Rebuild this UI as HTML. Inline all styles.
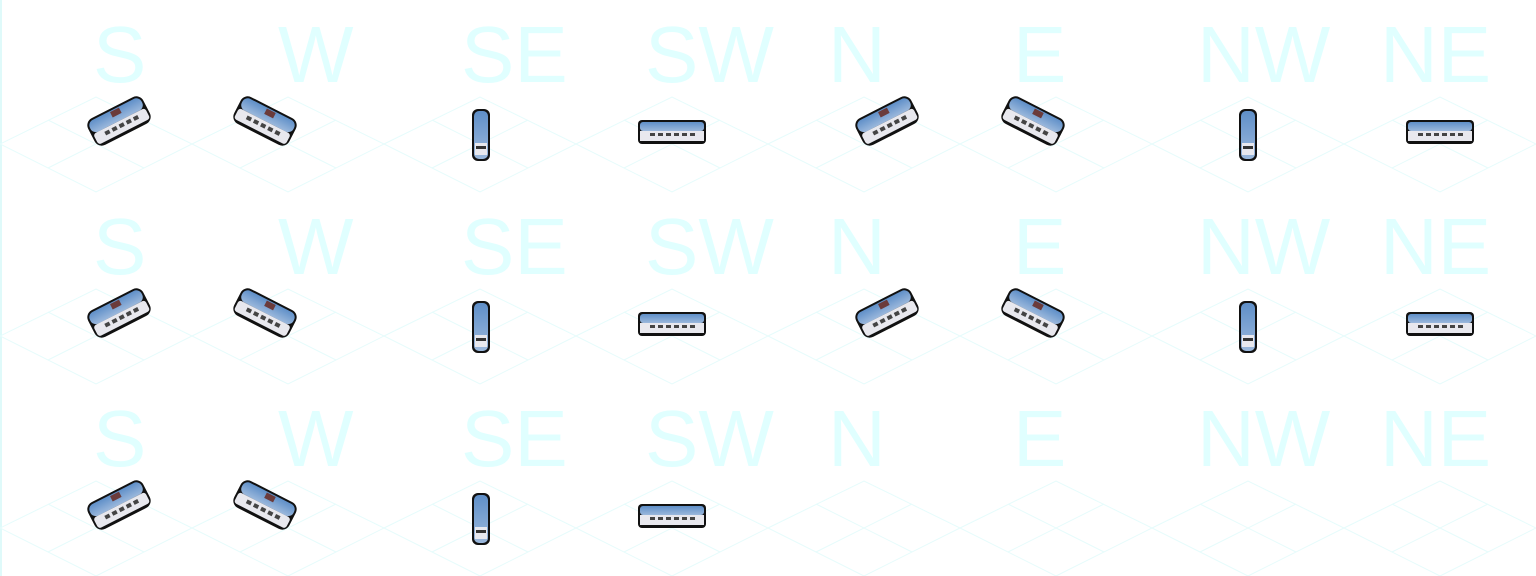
<!DOCTYPE html>
<html><head><meta charset="utf-8"><style>
html,body{margin:0;padding:0;background:#fff;width:1536px;height:576px;overflow:hidden}
svg{display:block}
.lbl{font-family:"Liberation Sans",sans-serif;font-size:80px;fill:#e0ffff}
</style></head><body>
<svg id="sheet" width="1536" height="576" xmlns="http://www.w3.org/2000/svg">
<defs>
<linearGradient id="roof" x1="0" y1="0" x2="0" y2="1"><stop offset="0" stop-color="#5f8fc8"/><stop offset="1" stop-color="#9bb8dc"/></linearGradient>
<g id="trainH">
<rect x="-34" y="-12" width="68" height="24" rx="4" fill="#111"/>
<rect x="-32" y="-10" width="64" height="9" rx="3" fill="url(#roof)"/>
<rect x="-32" y="-1" width="64" height="10" fill="#e8e8ee"/>
<g fill="#444"><rect x="-22" y="1" width="5" height="3"/><rect x="-14" y="1" width="5" height="3"/><rect x="-6" y="1" width="5" height="3"/><rect x="2" y="1" width="5" height="3"/><rect x="10" y="1" width="5" height="3"/><rect x="18" y="1" width="5" height="3"/></g>
</g>
<g id="trainD">
<rect x="-31" y="-15" width="62" height="30" rx="8" fill="#111"/>
<rect x="-29" y="-13" width="58" height="13" rx="6" fill="url(#roof)"/>
<rect x="-29" y="0" width="58" height="12" rx="3" fill="#e8e8ee"/>
<g fill="#444"><rect x="-18" y="3" width="5" height="4"/><rect x="-10" y="3" width="5" height="4"/><rect x="-2" y="3" width="5" height="4"/><rect x="6" y="3" width="5" height="4"/><rect x="14" y="3" width="5" height="4"/></g>
<rect x="-4" y="-12" width="10" height="6" fill="#6b3b3b"/>
</g>
<g id="trainV">
<rect x="-9" y="-26" width="18" height="52" rx="6" fill="#111"/>
<rect x="-7" y="-24" width="14" height="48" rx="5" fill="url(#roof)"/>
<rect x="-6" y="8" width="12" height="12" fill="#e8e8ee"/>
<rect x="-5" y="11" width="10" height="3" fill="#333"/>
</g>
</defs>
<line x1="1" y1="0" x2="1" y2="576" stroke="#dffafa" stroke-width="2"/>
<g id="grid"></g>
<g id="labels"></g>
<g id="trains"></g>
</svg>
<script>
const dirs=['S','W','SE','SW','N','E','NW','NE'];
const labelX=[93,278,461,645,828,1013,1197,1380];
const kinds=['diagS','diagW','vert','horiz','diagS','diagW','vert','horiz'];
const rows=[8,8,4];
const NS='http://www.w3.org/2000/svg';
const grid=document.getElementById('grid'),labels=document.getElementById('labels'),trains=document.getElementById('trains');
for(let r=0;r<3;r++){
 for(let c=0;c<8;c++){
  const ox=c*192,oy=r*192;
  const g=document.createElementNS(NS,'path');
  g.setAttribute('d',`M${ox},${oy+144}L${ox+96},${oy+97}L${ox+192},${oy+144}L${ox+96},${oy+192}Z M${ox+48},${oy+120}L${ox+144},${oy+168} M${ox+144},${oy+120}L${ox+48},${oy+168}`);
  g.setAttribute('fill','none');g.setAttribute('stroke','#e6fcfc');g.setAttribute('stroke-width','1');
  
  
  grid.appendChild(g);
  const t=document.createElementNS(NS,'text');
  t.setAttribute('x',labelX[c]);t.setAttribute('y',oy+82);t.setAttribute('class','lbl');
  t.textContent=dirs[c];
  
  
  labels.appendChild(t);
  if(c<rows[r]){
   const u=document.createElementNS(NS,'use');
   const k=kinds[c];let cx,cy=oy+121,tr='';
   if(k==='diagS'){cx=ox+(c===0?119:887-768);tr=`translate(${cx},${cy}) rotate(-27)`;u.setAttribute('href','#trainD');}
   else if(k==='diagW'){cx=ox+(c===1?265-192:1033-960);tr=`translate(${cx},${cy}) rotate(27)`;u.setAttribute('href','#trainD');}
   else if(k==='vert'){cx=ox+(c===2?481-384:1248-1152);tr=`translate(${cx},${oy+135})`;u.setAttribute('href','#trainV');}
   else {cx=ox+(c===3?672-576:1440-1344);tr=`translate(${cx},${oy+132})`;u.setAttribute('href','#trainH');}
   u.setAttribute('transform',tr);
   
   
   trains.appendChild(u);
  }
 }
}
</script>
</body></html>
